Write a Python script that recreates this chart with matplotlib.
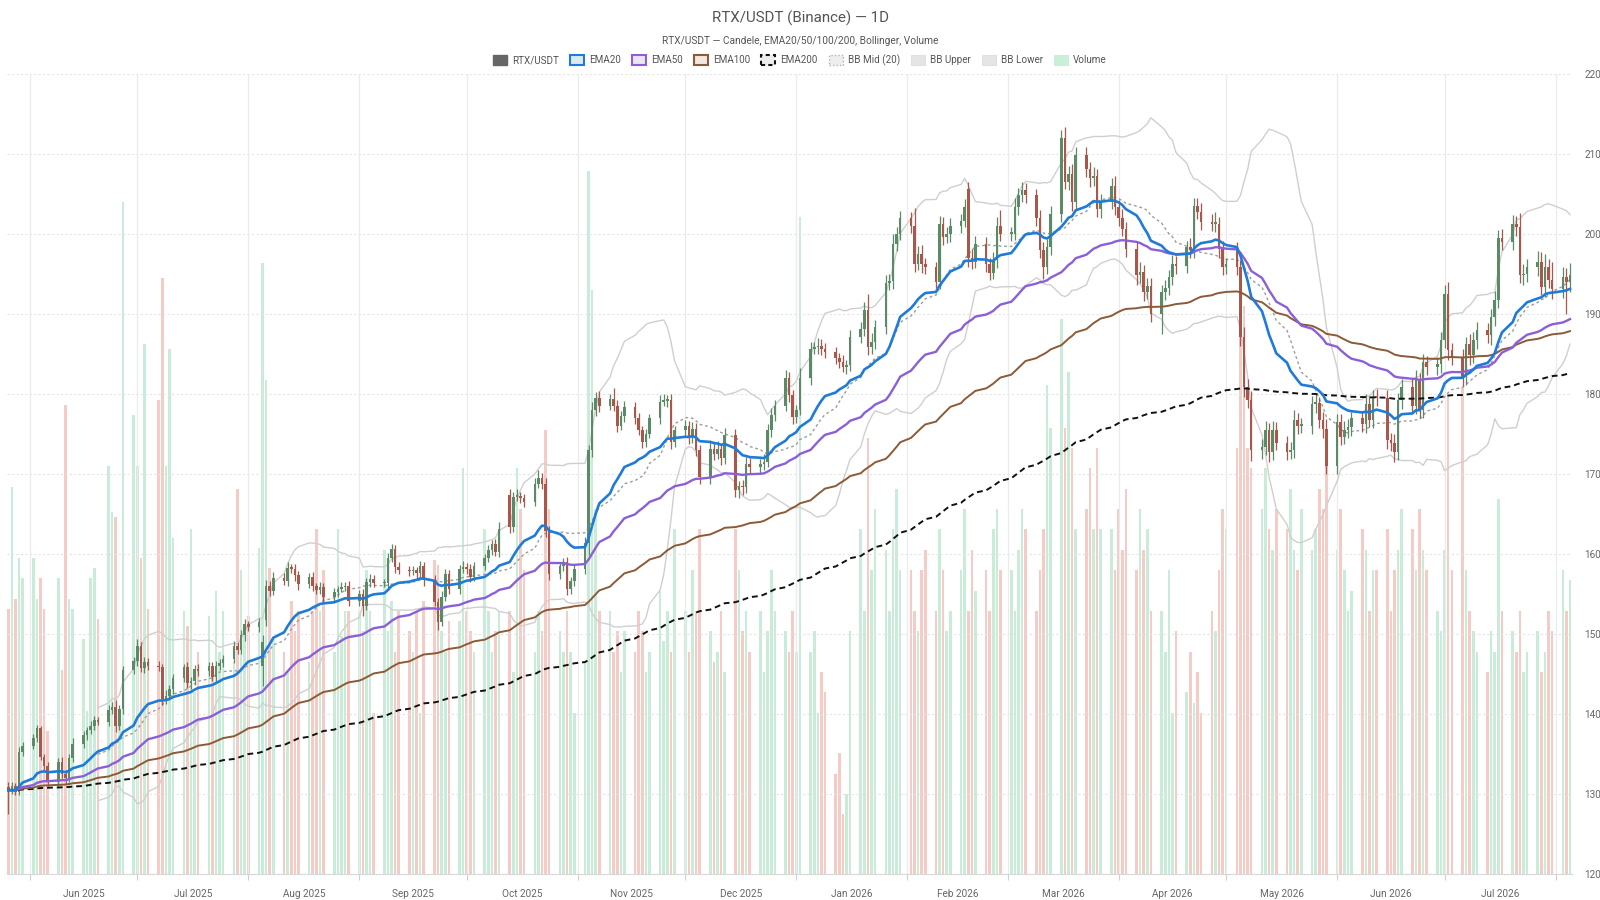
import numpy as np
import pandas as pd
import matplotlib
matplotlib.use("Agg")
import matplotlib.pyplot as plt
import matplotlib.dates as mdates
from matplotlib.patches import Patch

# ---------------- data (business days) ----------------
dates = pd.bdate_range("2025-05-26", "2026-08-05")

closes = [
    130.4, 130.9, 130.2, 135.2, 136.0,
    136.9, 138.2, 134.6, 133.5, 131.5,
    134.0, 132.5, 131.9, 134.4, 136.2,
    137.3, 137.9, 138.5, 139.2, 139.0,
    140.5, 140.8, 138.4, 140.6, 145.4,
    146.6, 148.5, 145.7, 146.5, 146.0,
    145.8, 141.8, 142.2, 143.1, 144.4,
    145.8, 143.8, 144.1, 145.6, 145.3,
    146.0, 144.6, 146.0, 146.3, 146.8,
    148.5, 148.0, 149.8, 151.2, 150.8,
    151.4, 149.0, 156.0, 155.3, 157.0,
    156.6, 158.2, 158.1, 157.3, 156.2,
    157.1, 155.9, 155.5, 155.8, 154.6,
    155.2, 155.6, 155.8, 156.0, 154.1,
    155.0, 153.4, 156.4, 156.8, 156.3,
    156.3, 159.4, 160.6, 158.3, 158.0,
    157.8, 157.9, 157.6, 158.5, 156.7,
    154.0, 151.5, 154.6, 157.5, 155.6,
    158.1, 158.3, 158.1, 157.1, 158.5,
    159.4, 160.4, 161.2, 160.2, 163.1,
    163.3, 167.1, 167.2, 166.9, 166.5,
    168.7, 169.5, 168.7, 162.8, 157.5,
    158.4, 158.9, 155.6, 156.6, 158.1,
    161.3, 172.9, 177.9, 179.4, 178.5,
    179.3, 178.5, 176.0, 177.2, 178.3,
    176.9, 175.4, 174.0, 175.0, 176.9,
    179.0, 179.1, 179.2, 174.0, 175.4,
    176.0, 174.4, 175.6, 173.0, 169.6,
    173.1, 172.5, 173.1, 172.0, 174.8,
    167.9, 168.5, 168.3, 171.2, 170.8,
    171.2, 171.5, 175.4, 177.3, 178.5,
    181.9, 179.8, 177.1, 178.0, 181.9,
    185.6, 185.8, 186.0, 185.6, 185.2,
    184.4, 184.0, 183.3, 183.6, 187.1,
    188.1, 190.4, 185.8, 186.4, 188.3,
    193.8, 194.1, 198.7, 200.0, 201.9,
    201.0, 196.2, 197.5, 196.2, 195.8,
    194.0, 201.2, 199.6, 200.0, 201.0,
    201.6, 203.3, 196.9, 196.5, 198.7,
    196.2, 195.1, 196.7, 201.0, 200.0,
    200.0, 203.3, 204.8, 205.4, 204.8,
    201.9, 198.0, 195.8, 198.3, 202.5,
    212.0, 206.5, 207.5, 204.0, 209.8,
    208.1, 206.9, 207.2, 203.1, 204.0,
    206.0, 203.3, 202.0, 200.6, 198.1,
    194.8, 195.2, 192.7, 193.4, 190.0,
    192.7, 193.2, 194.6, 196.2, 196.0,
    198.3, 198.0, 203.5, 202.7, 201.4,
    201.2, 201.2, 198.1, 195.8, 196.2,
    195.8, 187.1, 180.8, 179.2, 172.9,
    173.3, 175.4, 172.7, 175.5, 173.8,
    172.7, 173.0, 176.7, 176.0, 176.0,
    178.7, 178.8, 176.7, 175.6, 171.0,
    176.5, 174.6, 175.5, 175.8, 176.9,
    176.2, 178.7, 176.7, 179.6, 179.5,
    174.2, 173.8, 172.7, 179.2, 180.8,
    178.5, 181.7, 177.9, 183.9, 183.3,
    183.7, 186.7, 192.5, 185.4, 184.6,
    182.1, 186.2, 184.8, 186.7, 187.9,
    187.3, 189.6, 191.7, 199.4, 199.0,
    201.2, 200.8, 194.8, 195.0, 195.8,
    196.5, 193.3, 195.8, 194.2, 193.1,
    194.6, 193.9, 194.8,
]

first_open = 130.8
open_gaps = {51: 146.0, 52: 151.7, 100: 167.3, 192: 205.6, 245: 197.9}

wick_up = [
    0.6, 0.5, 0.4, 0.6, 0.5,  0.6, 0.4, 0.3, 0.4, 0.5,  0.5, 0.6, 0.4, 0.5, 0.7,
    0.5, 0.4, 0.6, 0.5, 0.4,  0.6, 0.7, 0.9, 0.5, 0.6,  0.5, 0.8, 0.4, 0.6, 0.5,
    0.6, 0.4, 0.7, 0.5, 0.5,  0.4, 0.6, 0.5, 0.5, 0.6,  0.5, 0.4, 0.6, 0.5, 0.5,
    0.6, 0.5, 0.7, 0.6, 0.4,  0.5, 0.8, 0.7, 0.6, 0.7,  0.6, 0.7, 0.5, 0.6, 0.5,
    0.5, 0.6, 0.4, 0.7, 0.5,  0.5, 0.4, 0.6, 0.5, 0.6,  0.4, 0.6, 0.5, 0.6, 0.5,
    0.5, 0.7, 0.6, 0.5, 0.6,  0.5, 0.6, 0.4, 0.6, 0.5,  0.6, 0.5, 0.7, 0.6, 0.5,
    0.5, 0.8, 0.5, 0.6, 0.5,  0.6, 0.7, 0.5, 0.6, 0.8,  0.8, 0.6, 0.9, 0.5, 0.6,
    0.7, 0.9, 0.6, 0.8, 0.7,  0.6, 0.5, 0.7, 0.5, 0.6,  0.8, 0.7, 1.0, 0.8, 0.9,
    0.6, 1.4, 0.7, 0.6, 0.8,  0.6, 0.7, 0.5, 0.6, 0.5,  0.8, 0.9, 0.6, 0.7, 0.6,
    0.7, 0.6, 0.8, 0.7, 0.6,  0.9, 0.8, 1.0, 0.7, 0.9,  0.8, 0.6, 0.7, 0.9, 0.7,
    0.6, 1.0, 0.8, 0.9, 0.7,  1.0, 0.8, 0.7, 0.6, 1.3,  0.9, 0.7, 1.0, 0.8, 0.7,
    0.6, 0.7, 0.8, 0.6, 0.9,  0.8, 1.0, 2.0, 1.2, 0.9,  1.0, 0.9, 1.2, 0.8, 0.9,
    0.8, 2.2, 1.0, 1.1, 0.8,  0.7, 1.0, 0.9, 0.8, 1.0,  0.8, 1.0, 0.9, 1.2, 1.0,
    0.9, 0.8, 1.0, 1.1, 1.9,  0.8, 1.2, 0.9, 1.0, 0.9,  0.8, 1.1, 0.9, 1.0, 0.9,
    1.0, 1.3, 0.9, 1.2, 1.0,  1.0, 0.8, 1.1, 0.9, 1.0,  1.0, 1.2, 0.9, 1.1, 0.8,
    1.0, 1.2, 0.9, 1.0, 1.1,  0.9, 1.0, 0.8, 1.1, 1.0,  0.8, 1.2, 1.0, 0.9, 1.1,
    1.0, 1.5, 0.9, 1.0, 0.8,  1.0, 0.9, 1.2, 1.0, 1.1,  1.0, 1.2, 0.9, 1.1, 1.0,
    0.9, 1.0, 1.2, 0.9, 1.0,  1.0, 1.1, 0.8, 1.0, 1.2,  1.0, 0.9, 1.1, 1.0, 0.8,
    0.9, 1.2, 1.0, 0.8, 1.0,  1.0, 0.9, 1.1, 0.9, 1.0,  1.0, 1.2, 0.9, 1.1, 0.8,
    0.9, 1.0, 1.1, 1.5, 0.9,  1.0, 0.9, 1.2, 1.0, 1.1,  0.9, 1.0, 1.1, 1.0, 1.2,
    1.1, 1.0, 1.8, 1.2, 1.0,  1.3, 1.2, 1.6, 1.0, 2.3,  1.2, 1.1, 1.5,
]

wick_dn = [
    3.0, 0.5, 0.4, 0.4, 0.5,  0.4, 0.5, 0.4, 0.6, 0.5,  0.6, 0.5, 0.7, 0.4, 0.5,
    0.5, 0.6, 0.4, 0.5, 0.4,  0.6, 0.5, 0.7, 0.5, 0.6,  0.5, 0.6, 0.5, 0.6, 0.6,
    0.5, 0.7, 0.6, 0.5, 0.6,  0.5, 0.6, 0.7, 0.5, 0.6,  0.6, 0.5, 0.6, 0.5, 0.5,
    0.5, 0.6, 0.5, 0.7, 0.5,  0.6, 2.5, 0.7, 0.6, 0.5,  0.5, 0.6, 0.5, 0.7, 0.8,
    0.5, 0.6, 0.5, 0.6, 0.7,  0.5, 0.6, 0.4, 0.5, 0.6,  0.6, 1.2, 0.5, 0.6, 0.5,
    0.5, 0.6, 0.5, 0.7, 0.5,  0.6, 0.5, 0.6, 0.5, 0.7,  0.6, 1.1, 0.6, 0.5, 0.6,
    0.6, 0.5, 0.6, 0.7, 0.5,  0.6, 0.5, 0.6, 0.5, 0.6,  0.7, 0.6, 0.5, 0.6, 0.7,
    0.6, 0.5, 0.6, 0.7, 0.8,  0.7, 0.6, 0.8, 0.6, 0.7,  0.7, 1.5, 0.8, 0.7, 0.8,
    0.6, 0.7, 0.8, 0.6, 0.7,  0.7, 0.6, 0.8, 0.7, 0.6,  0.7, 0.6, 0.8, 0.9, 0.7,
    0.8, 0.7, 0.6, 0.8, 0.9,  0.9, 0.8, 0.7, 0.9, 0.8,  0.8, 0.9, 1.0, 0.7, 0.8,
    0.9, 0.8, 0.7, 0.8, 0.7,  0.7, 0.8, 0.9, 0.8, 0.7,  0.8, 0.7, 0.9, 0.8, 0.7,
    0.7, 0.8, 0.6, 0.9, 0.8,  0.8, 0.9, 1.0, 0.9, 0.8,  0.9, 0.8, 1.0, 0.9, 0.8,
    0.9, 1.0, 0.8, 1.1, 0.9,  0.8, 0.9, 1.0, 0.8, 1.0,  0.9, 0.8, 1.1, 0.9, 0.8,
    1.0, 0.9, 0.8, 1.0, 0.9,  0.9, 0.8, 1.0, 0.9, 1.0,  0.9, 1.0, 1.5, 0.8, 1.0,
    1.0, 0.9, 1.1, 1.2, 0.9,  1.0, 1.1, 0.9, 1.0, 1.2,  0.9, 1.0, 1.1, 0.9, 1.0,
    1.2, 1.0, 1.1, 0.9, 1.0,  2.5, 1.0, 0.9, 1.0, 1.1,  0.9, 1.0, 1.1, 0.9, 1.0,
    0.9, 1.0, 1.2, 1.0, 0.9,  1.0, 1.1, 1.2, 1.0, 1.3,  1.1, 1.0, 1.2, 1.0, 0.9,
    1.0, 0.9, 1.1, 1.0, 0.9,  1.0, 1.1, 1.0, 1.2, 1.0,  1.1, 1.0, 0.9, 1.0, 1.1,
    1.0, 1.1, 0.9, 1.0, 1.0,  1.1, 1.0, 1.3, 1.0, 1.1,  1.0, 1.1, 0.9, 1.0, 1.0,
    1.0, 1.1, 1.0, 1.2, 1.0,  1.1, 1.0, 1.2, 1.0, 1.1,  1.0, 1.2, 1.1, 1.0, 1.1,
    1.0, 1.1, 1.0, 1.2, 1.0,  1.1, 1.0, 1.2, 1.0, 1.3,  1.1, 3.9, 1.2,
]

volumes = [  # thousands
    260, 380, 270, 310, 290,  310, 270, 290, 260, 140,  290, 200, 460, 270, 260,
    230, 160, 290, 300, 250,  400, 355, 350, 160, 660,  450, 400, 310, 520, 260,
    465, 585, 400, 515, 330,  258, 243, 338, 178, 218,  253, 198, 278, 218, 258,
    208, 378, 298, 238, 253,  320, 600, 485, 300, 230,  218, 198, 268, 238, 258,
    208, 258, 338, 258, 298,  218, 338, 233, 258, 258,  258, 238, 298, 258, 158,
    318, 238, 268, 218, 258,  238, 218, 258, 158, 268,  308, 303, 238, 218, 248,
    248, 398, 258, 238, 218,  338, 258, 218, 238, 258,  258, 198, 398, 358, 298,
    218, 258, 238, 436, 358,  238, 218, 258, 218, 158,  208, 690, 573, 358, 258,
    258, 218, 238, 198, 238,  218, 258, 238, 198, 218,  278, 228, 258, 218, 338,
    258, 218, 298, 258, 338,  238, 208, 218, 258, 198,  338, 298, 238, 258, 218,
    258, 198, 238, 298, 258,  238, 218, 258, 218, 645,  218, 238, 158, 198, 178,
    98, 118, 58, 78, 238,     338, 258, 428, 298, 358,  318, 258, 338, 378, 298,
    298, 258, 238, 298, 318,  258, 338, 298, 238, 258,  298, 358, 258, 318, 278,
    298, 258, 338, 358, 298,  298, 258, 318, 358, 338,  258, 298, 338, 480, 438,
    545, 438, 493, 418, 338,  358, 398, 338, 418, 338,  338, 298, 358, 318, 378,
    298, 358, 318, 338, 258,  258, 218, 298, 158, 238,  178, 218, 168, 198, 158,
    258, 238, 298, 358, 338,  418, 578, 558, 418, 398,  358, 398, 338, 318, 358,
    338, 378, 318, 298, 358,  318, 338, 378, 358, 418,  318, 358, 298, 258, 278,
    338, 318, 258, 298, 298,  338, 258, 298, 318, 358,  338, 298, 358, 318, 298,
    258, 238, 318, 468, 298,  478, 298, 258, 238, 218,  198, 238, 218, 368, 258,
    238, 218, 258, 198, 218,  238, 198, 218, 258, 238,  298, 258, 288,
]

y_ticks = [120, 130, 140, 150, 160, 170, 180, 190, 200, 210, 220]

# ---------------- derived series ----------------
c = np.array(closes, dtype=float)
o = np.r_[first_open, c[:-1]]
for i, v in open_gaps.items():
    o[i] = v
hi = np.maximum(o, c) + np.array(wick_up)
lo = np.minimum(o, c) - np.array(wick_dn)
vol = np.array(volumes, dtype=float)
s = pd.Series(c, index=dates)
ema20 = s.ewm(span=20, adjust=False).mean()
ema50 = s.ewm(span=50, adjust=False).mean()
ema100 = s.ewm(span=100, adjust=False).mean()
ema200 = s.ewm(span=200, adjust=False).mean()
bb_mid = s.rolling(20).mean()
bb_std = s.rolling(20).std(ddof=0)
bb_up = bb_mid + 2 * bb_std
bb_lo = bb_mid - 2 * bb_std

# ---------------- style ----------------
plt.rcParams["font.family"] = ["Roboto", "DejaVu Sans"]
GREEN = "#5b8a66"
RED = "#a9574a"
VGREEN = "#c9ecd8"
VRED = "#f7cbc5"

fig = plt.figure(figsize=(16, 9), dpi=100)
ax = fig.add_axes([7 / 1600, 1 - 873.5 / 900, 1565 / 1600, 800 / 900])
vax = ax.twinx()
ax.set_zorder(vax.get_zorder() + 1)
ax.patch.set_visible(False)

x = mdates.date2num(dates)
up = c >= o

# volume
vax.bar(x, vol, width=0.72, color=np.where(up, VGREEN, VRED), linewidth=0, zorder=1)
vax.set_ylim(0, 786)
vax.axis("off")

# grid
for yv in y_ticks:
    ax.axhline(yv, color="#e4e4e4", lw=0.8, ls=(0, (2, 2)), zorder=0.5)
month_starts = pd.date_range("2025-06-01", "2026-08-01", freq="MS")
for m in month_starts:
    ax.axvline(mdates.date2num(m), color="#ebebeb", lw=0.9, zorder=0.5)

# bollinger
ax.plot(x, bb_up.values, color="#cfcfcf", lw=1.0, zorder=2)
ax.plot(x, bb_lo.values, color="#cfcfcf", lw=1.0, zorder=2)
ax.plot(x, bb_mid.values, color="#9c9c9c", lw=1.0, ls=(0, (2, 2)), zorder=2)

# candles
col = np.where(up, GREEN, RED)
ax.vlines(x, lo, hi, colors=col, lw=0.9, zorder=3)
body_h = np.maximum(np.abs(c - o), 0.2)
ax.bar(x, body_h, bottom=np.minimum(o, c), width=0.72, color=col, linewidth=0, zorder=4)

# EMAs
ax.plot(x, ema200.values, color="#111111", lw=1.4, ls=(0, (3, 2)), zorder=5)
ax.plot(x, ema100.values, color="#8c5a36", lw=1.4, zorder=5)
ax.plot(x, ema50.values, color="#8b5fd8", lw=1.7, zorder=5)
ax.plot(x, ema20.values, color="#1f7bd8", lw=1.9, zorder=6)

# axes
ax.set_xlim(x[0] - 0.36, x[-1] + 0.56)
ax.set_ylim(120, 220)
ax.set_yticks(y_ticks)
ax.yaxis.tick_right()
ax.tick_params(axis="y", length=0, pad=9, labelsize=7.2, labelcolor="#666666")
for sp in ["top", "left", "right"]:
    ax.spines[sp].set_visible(False)
ax.spines["bottom"].set_color("#d8d8d8")
ax.set_xticks([mdates.date2num(m) for m in month_starts])
ax.set_xticklabels([])
ax.tick_params(axis="x", which="major", length=4, color="#d0d0d0")
mids = []
mid_labels = []
for m in month_starts[:-1]:
    nxt = m + pd.offsets.MonthBegin(1)
    mids.append(mdates.date2num(m + (nxt - m) / 2))
    mid_labels.append(m.strftime("%b %Y"))
ax.set_xticks(mids, minor=True)
ax.set_xticklabels(mid_labels, minor=True)
ax.tick_params(axis="x", which="minor", length=0, pad=11, labelsize=7.2, labelcolor="#666666")

# titles
fig.text(0.5, 1 - 18.5 / 900, "RTX/USDT (Binance) — 1D", ha="center", va="center",
         fontsize=10.9, color="#555555")
fig.text(0.5, 1 - 41 / 900, "RTX/USDT — Candele, EMA20/50/100/200, Bollinger, Volume",
         ha="center", va="center", fontsize=7.3, color="#555555")

handles = [
    Patch(facecolor="#666666", edgecolor="#666666"),
    Patch(facecolor="#dce9f5", edgecolor="#1f7bd8", lw=1.5),
    Patch(facecolor="#ece4f8", edgecolor="#8b5fd8", lw=1.5),
    Patch(facecolor="#f1e7df", edgecolor="#8c5a36", lw=1.5),
    Patch(facecolor="#eeeeee", edgecolor="#111111", lw=1.5, ls=(0, (2, 1.5))),
    Patch(facecolor="#eeeeee", edgecolor="#b0b0b0", lw=1.0, ls=(0, (1, 1.5))),
    Patch(facecolor="#e5e5e5", edgecolor="#e0e0e0", lw=0.8),
    Patch(facecolor="#e5e5e5", edgecolor="#e0e0e0", lw=0.8),
    Patch(facecolor="#c9efd9", edgecolor="#c9efd9", lw=0.8),
]
labels = ["RTX/USDT", "EMA20", "EMA50", "EMA100", "EMA200", "BB Mid (20)",
          "BB Upper", "BB Lower", "Volume"]
leg = fig.legend(handles, labels, loc="center", bbox_to_anchor=(0.5, 1 - 60 / 900),
                 ncol=9, frameon=False, fontsize=7.1, handlelength=1.4, handleheight=1.1,
                 columnspacing=1.1, handletextpad=0.55)
for t in leg.get_texts():
    t.set_color("#555555")

fig.savefig("out.png", dpi=100)
